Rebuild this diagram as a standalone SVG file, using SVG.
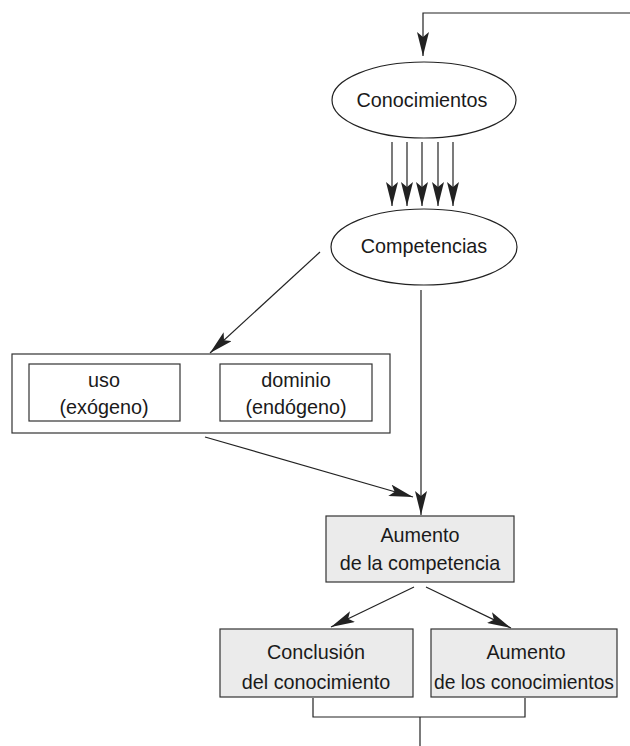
<svg xmlns="http://www.w3.org/2000/svg" width="630" height="746" viewBox="0 0 630 746">
<style>
.t{font-family:"Liberation Sans",Arial,sans-serif;font-size:19.8px;fill:#1a1a1a;text-anchor:middle}
.ln{stroke:#222;stroke-width:1.2;fill:none}
.ell{fill:#fff;stroke:#222;stroke-width:1.2}
.box{fill:#fff;stroke:#333;stroke-width:1.2}
.gbox{fill:#ebebeb;stroke:#333;stroke-width:1.2}
</style>
<defs>
<marker id="ah" viewBox="0 0 24 12" refX="24" refY="6" markerWidth="24" markerHeight="12" markerUnits="userSpaceOnUse" orient="auto">
<path d="M0,0 L24,6 L0,12 L5,6 Z" fill="#222"/>
</marker>
</defs>
<g id="connectors">
<polyline class="ln" points="630,13 423,13 423,56" marker-end="url(#ah)"/>
<line class="ln" x1="392" y1="142" x2="392" y2="206" marker-end="url(#ah)"/>
<line class="ln" x1="407" y1="142" x2="407" y2="206" marker-end="url(#ah)"/>
<line class="ln" x1="422" y1="142" x2="422" y2="206" marker-end="url(#ah)"/>
<line class="ln" x1="438" y1="142" x2="438" y2="206" marker-end="url(#ah)"/>
<line class="ln" x1="453" y1="142" x2="453" y2="206" marker-end="url(#ah)"/>
<line class="ln" x1="320" y1="252" x2="210" y2="353" marker-end="url(#ah)"/>
<line class="ln" x1="421" y1="290" x2="421" y2="515" marker-end="url(#ah)"/>
<line class="ln" x1="205" y1="437" x2="413" y2="497" marker-end="url(#ah)"/>
<line class="ln" x1="414" y1="587" x2="331" y2="627" marker-end="url(#ah)"/>
<line class="ln" x1="426" y1="587" x2="511" y2="628" marker-end="url(#ah)"/>
<polyline class="ln" points="313,698 313,717 525,717 525,698"/>
<line class="ln" x1="420" y1="717" x2="420" y2="746"/>
</g>
<g id="conocimientos">
<ellipse class="ell" cx="424" cy="100" rx="92" ry="38"/>
<text class="t" x="422" y="107">Conocimientos</text>
</g>
<g id="competencias">
<ellipse class="ell" cx="424" cy="247" rx="93" ry="38"/>
<text class="t" x="424" y="253">Competencias</text>
</g>
<g id="grupo">
<rect class="box" x="12" y="354" width="378" height="79"/>
</g>
<g id="uso">
<rect class="box" x="29" y="364" width="151" height="57"/>
<text class="t" x="104" y="387">uso</text>
<text class="t" x="104" y="414">(exógeno)</text>
</g>
<g id="dominio">
<rect class="box" x="220" y="364" width="152" height="57"/>
<text class="t" x="296" y="387">dominio</text>
<text class="t" x="296" y="414">(endógeno)</text>
</g>
<g id="aumento-competencia">
<rect class="gbox" x="326" y="516" width="188" height="66"/>
<text class="t" x="420" y="542">Aumento</text>
<text class="t" x="420" y="570">de la competencia</text>
</g>
<g id="conclusion">
<rect class="gbox" x="220" y="629" width="193" height="68"/>
<text class="t" x="316" y="659">Conclusión</text>
<text class="t" x="316" y="689">del conocimiento</text>
</g>
<g id="aumento-conocimientos">
<rect class="gbox" x="431" y="629" width="186" height="68"/>
<text class="t" x="526" y="659">Aumento</text>
<text class="t" x="524" y="689" textLength="180" lengthAdjust="spacingAndGlyphs">de los conocimientos</text>
</g>
</svg>
